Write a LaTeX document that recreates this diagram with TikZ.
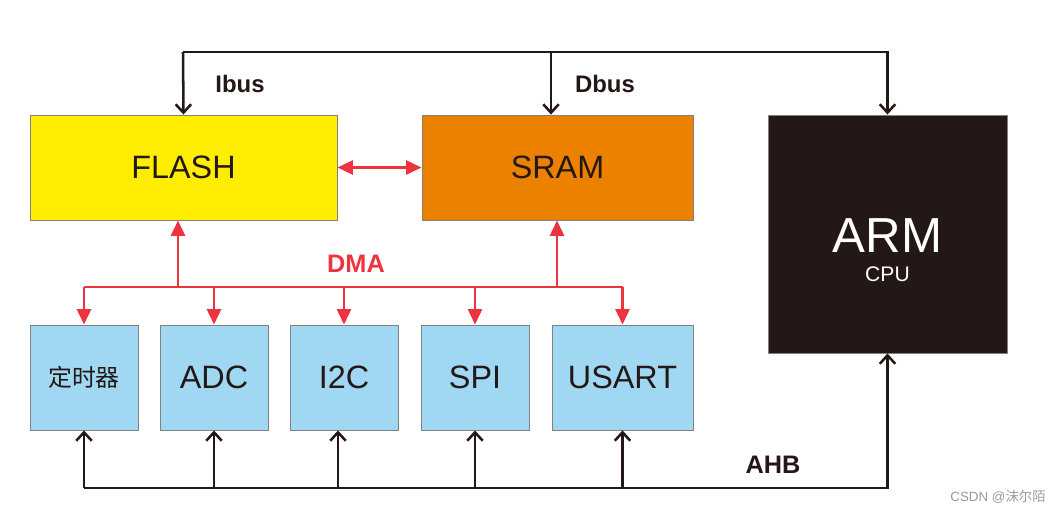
\documentclass[tikz,border=0pt]{standalone}
\usepackage{fontspec}
\setmainfont{Liberation Sans}
\newfontfamily\cjk{Noto Sans CJK SC}
\usetikzlibrary{arrows.meta}
\definecolor{ink}{HTML}{231815}
\definecolor{flashy}{HTML}{FFED00}
\definecolor{sramo}{HTML}{EC8100}
\definecolor{perib}{HTML}{A0D8F4}
\definecolor{dmared}{HTML}{EE3340}
\definecolor{edge}{HTML}{808080}
\definecolor{mark}{HTML}{9A9A9A}

\begin{document}
\begin{tikzpicture}[x=.025cm,y=-.025cm,
      mem/.style={draw=edge,line width=.6pt,inner sep=0pt,minimum height=2.625cm,
                  font=\fontsize{23}{26}\selectfont,text=ink},
      peri/.style={draw=edge,fill=perib,line width=.6pt,inner sep=0pt,minimum width=2.7cm,
                  minimum height=2.625cm,font=\fontsize{23}{26}\selectfont,text=ink},
      bus/.style={line width=1.8pt,draw=ink},
      busarrow/.style={bus,-{Straight Barb[length=6pt,width=11pt]}},
      dmaline/.style={line width=1.8pt,draw=dmared},
      dmaarrow/.style={dmaline,-{Triangle[length=11pt,width=10pt]}},
      buslabel/.style={font=\fontsize{17}{20}\selectfont\bfseries,text=ink}]
    \useasboundingbox (0,0) rectangle (1064,513);
    \node[mem,fill=flashy,minimum width=7.675cm] (flash) at (183.5,167.5) {FLASH};
    \node[mem,fill=sramo,minimum width=6.775cm] (sram) at (557.5,167.5) {SRAM};
    \node[draw=edge,fill=ink,line width=.6pt,minimum width=5.975cm,minimum height=5.95cm,
          label={[text=white,align=center,yshift=-11.5pt,font=\fontsize{35}{38}\selectfont]center:{ARM\\[-17pt]\fontsize{15}{17}\selectfont CPU}}]
          (arm) at (887.5,234) {};
    \node[peri,font=\cjk\fontsize{17}{20}\selectfont] (tim) at (84,377.5) {定时器};
    \node[peri] (adc) at (214,377.5) {ADC};
    \node[peri] (iic) at (344,377.5) {I2C};
    \node[peri] (spi) at (475,377.5) {SPI};
    \node[peri,minimum width=3.525cm] (usart) at (622.5,377.5) {USART};
    \coordinate (ibus) at (183,52);
    \coordinate (dbus) at (551,52);
    \coordinate (dma) at (0,287);
    \coordinate (dmaL) at (178,287);
    \coordinate (dmaR) at (557,287);
    \coordinate (ahb) at (0,488);
    \draw[busarrow] (ibus) -- (flash.north);
    \draw[busarrow] (ibus) -| (arm.north);
    \draw[busarrow] (dbus) -- (dbus |- sram.north);
    \node[buslabel] (ibuslbl) at (240,84) {Ibus};
    \node[buslabel] (dbuslbl) at (605,84) {Dbus};
    \draw[dmaline,{Triangle[length=11pt,width=10pt]}-{Triangle[length=11pt,width=10pt]}] (flash.east) -- (sram.west);
    \draw[dmaline] (tim.north |- dma) -- (usart.north |- dma);
    \draw[dmaarrow] (dmaL) -- (dmaL |- flash.south);
    \draw[dmaarrow] (dmaR) -- (dmaR |- sram.south);
    \foreach \b in {tim,adc,iic,spi,usart}
      \draw[dmaarrow] (\b.north |- dma) -- (\b.north);
    \node[font=\fontsize{18}{21}\selectfont\bfseries,text=dmared] (dmalbl) at (356,264) {DMA};
    \draw[busarrow] (tim.south |- ahb) -| (arm.south);
    \foreach \b in {tim,adc,spi,usart}
      \draw[busarrow] (\b.south |- ahb) -- (\b.south);
    \draw[busarrow] ([xshift=-.15cm]iic.south |- ahb) -- ([xshift=-.15cm]iic.south);
    \node[buslabel,font=\fontsize{18}{21}\selectfont\bfseries] (ahblbl) at (773,465) {AHB};
    \node[text=mark,font=\fontsize{9.5}{11}\selectfont] (wm) at (998,497) {CSDN @{\cjk 沫尔陌}};
\end{tikzpicture}
\end{document}
